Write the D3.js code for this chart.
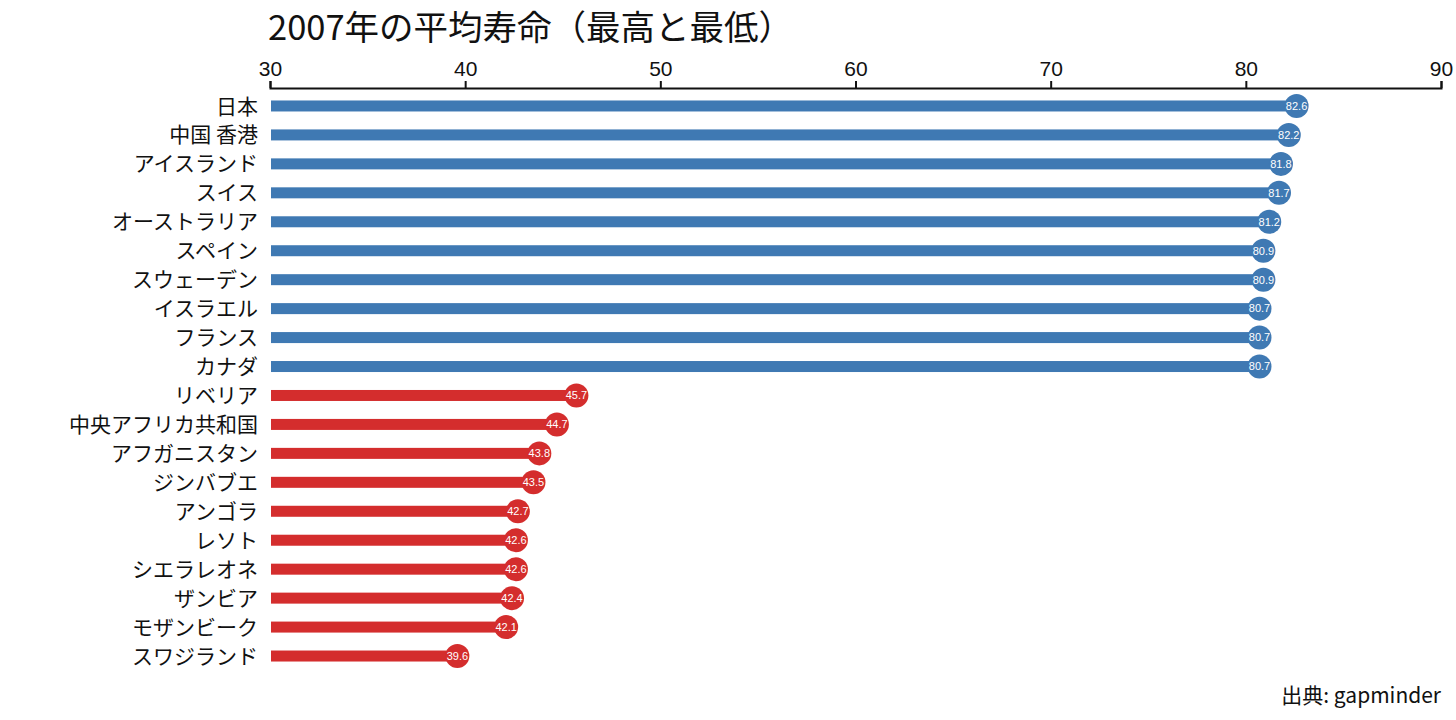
<!DOCTYPE html>
<html><head><meta charset="utf-8">
<script src="https://cdn.jsdelivr.net/npm/d3@7"></script>
<style>body{margin:0;background:#fff;} svg{display:block;font-family:"Noto Sans CJK JP","Noto Sans",sans-serif;}</style>
</head><body>
<svg id="c" width="1456" height="720"></svg>
<script>
const countries = ["日本","中国 香港","アイスランド","スイス","オーストラリア","スペイン","スウェーデン","イスラエル","フランス","カナダ",
 "リベリア","中央アフリカ共和国","アフガニスタン","ジンバブエ","アンゴラ","レソト","シエラレオネ","ザンビア","モザンビーク","スワジランド"];
const lifeExp = [82.6,82.2,81.8,81.7,81.2,80.9,80.9,80.7,80.7,80.7,45.7,44.7,43.8,43.5,42.7,42.6,42.6,42.4,42.1,39.6];
const group = ["high","high","high","high","high","high","high","high","high","high","low","low","low","low","low","low","low","low","low","low"];
const xTicks = [30,40,50,60,70,80,90];
const titleText = "2007年の平均寿命（最高と最低）";
const sourceText = "出典: gapminder";

const colors = {high:"#3f79b3", low:"#d42d2d"};
const svg = d3.select("#c");
const x = d3.scaleLinear().domain([30,90]).range([270,1441]);
const y = d3.scaleBand().domain(countries).range([91.5,670.5]).paddingInner(0).paddingOuter(0);

svg.append("text").attr("x",268).attr("y",40).attr("font-size",34.5).attr("fill","#111").text(titleText);

const ax = svg.append("g").attr("transform","translate(0,88)")
  .call(d3.axisTop(x).tickValues(xTicks).tickSize(7).tickPadding(5));
ax.select(".domain").attr("stroke","#111").attr("stroke-width",2);
ax.selectAll(".tick line").attr("stroke","#111").attr("stroke-width",2);
ax.selectAll(".tick text").attr("font-size",21).attr("fill","#111")
  .attr("font-family","'Liberation Sans','Noto Sans',sans-serif");

const data = countries.map((c,i)=>({c, v:lifeExp[i], g:group[i]}));
const rows = svg.append("g").selectAll("g").data(data).join("g")
  .attr("transform",d=>`translate(0,${y(d.c)+y.bandwidth()/2})`);
rows.append("rect").attr("x",x(30)+1).attr("y",-5.5).attr("height",11)
  .attr("width",d=>x(d.v)-x(30)-1).attr("fill",d=>colors[d.g]);
rows.append("circle").attr("cx",d=>x(d.v)).attr("r",12).attr("fill",d=>colors[d.g]);
rows.append("text").attr("x",d=>x(d.v)).attr("dy","0.35em").attr("text-anchor","middle")
  .attr("font-size",11).attr("fill","#fff")
  .attr("font-family","'Liberation Sans','Noto Sans',sans-serif").text(d=>d.v.toFixed(1));
rows.append("text").attr("x",258).attr("dy","0.36em").attr("text-anchor","end")
  .attr("font-size",21).attr("fill","#111").text(d=>d.c);

svg.append("text").attr("x",1441).attr("y",703).attr("text-anchor","end")
  .attr("font-size",21).attr("fill","#111").text(sourceText);
</script>
</body></html>
